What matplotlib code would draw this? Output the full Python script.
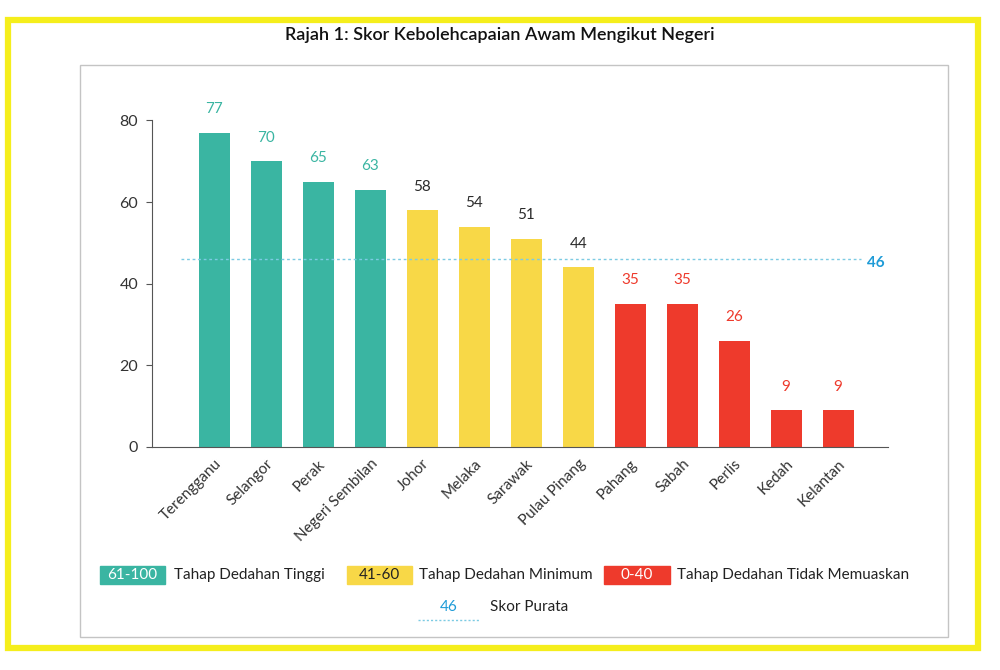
import matplotlib.pyplot as plt
from matplotlib.patches import Rectangle
from matplotlib.lines import Line2D

# ==========================================
# DATA
# ==========================================

negeri = ["Terengganu", "Selangor", "Perak", "Negeri Sembilan", "Johor",
          "Melaka", "Sarawak", "Pulau Pinang", "Pahang", "Sabah", "Perlis",
          "Kedah", "Kelantan"]
skor = [77, 70, 65, 63, 58, 54, 51, 44, 35, 35, 26, 9, 9]
skor_purata = 46

tahap_label = ["61-100", "41-60", "0-40"]
tahap_nama = ["Tahap Dedahan Tinggi", "Tahap Dedahan Minimum",
              "Tahap Dedahan Tidak Memuaskan"]

# ==========================================
# STYLE
# ==========================================

HIJAU = "#3AB5A2"
KUNING = "#F8D847"
MERAH = "#EE3A2C"
BIRU = "#1E9BD7"
GARIS_BIRU = "#7CCBE3"
TEKS = "#333333"

plt.rcParams["font.family"] = ["Lato", "DejaVu Sans"]


def warna_bar(v):
    if v >= 61:
        return HIJAU
    if v >= 41:
        return KUNING
    return MERAH


def warna_label(v):
    if v >= 61:
        return HIJAU
    if v >= 41:
        return "#2b2b2b"
    return MERAH


W, H = 1000, 670
fig = plt.figure(figsize=(10, 6.7), dpi=100)


def fx(px):
    return px / W


def fy(py):
    return 1 - py / H


# borders
fig.patches.append(Rectangle((fx(8), fy(648)), fx(970), 628 / H,
                             transform=fig.transFigure, fill=False,
                             edgecolor="#F5EE1C", linewidth=4.5))
fig.patches.append(Rectangle((fx(80), fy(637)), fx(868), 572 / H,
                             transform=fig.transFigure, fill=False,
                             edgecolor="#C4C4C4", linewidth=1))

fig.text(0.5, fy(35), "Rajah 1: Skor Kebolehcapaian Awam Mengikut Negeri",
         ha="center", va="center", fontsize=13, color="#111111",
         fontweight="semibold")

# ==========================================
# GRAFIK
# ==========================================

ax = fig.add_axes([fx(152), fy(447), fx(888) - fx(152), fy(100) - fy(447)])

x = list(range(len(negeri)))
ax.bar(x, skor, width=0.6, color=[warna_bar(v) for v in skor])

for xi, v in zip(x, skor):
    ax.annotate(str(v), (xi, v), xytext=(0, 12), textcoords="offset points",
                ha="center", va="bottom", fontsize=11,
                color=warna_label(v))

ax.plot([-0.65, 12.45], [skor_purata, skor_purata], linestyle=(0, (2, 2)),
        color=GARIS_BIRU, linewidth=1)
ax.text(12.72, skor_purata - 1, str(skor_purata), ha="center", va="center",
        fontsize=11, color=BIRU, fontweight="bold")

ax.set_xlim(-1.2, 12.96)
ax.set_ylim(0, 85)
ax.set_yticks([0, 20, 40, 60, 80])
ax.spines["left"].set_bounds(0, 80)
ax.spines["top"].set_visible(False)
ax.spines["right"].set_visible(False)
ax.spines["left"].set_color("#555555")
ax.spines["bottom"].set_color("#555555")
ax.tick_params(axis="y", length=4, color="#555555", labelsize=11.5,
               labelcolor=TEKS, pad=6)
ax.tick_params(axis="x", length=0, labelsize=11, labelcolor=TEKS, pad=7)
ax.set_xticks(x)
ax.set_xticklabels(negeri, rotation=45, ha="right", rotation_mode="anchor")

# ==========================================
# LEGEND
# ==========================================

kotak = [(100, 165, HIJAU, "white", 174),
         (347, 412, KUNING, "#222222", 419),
         (604, 670, MERAH, "white", 677)]
for (x0, x1, c, tc, tx), lab, nama in zip(kotak, tahap_label, tahap_nama):
    fig.patches.append(Rectangle((fx(x0), fy(584)), fx(x1 - x0), 18 / H,
                                 transform=fig.transFigure, color=c))
    fig.text(fx((x0 + x1) / 2), fy(575), lab, ha="center", va="center",
             fontsize=11, color=tc)
    fig.text(fx(tx), fy(575), nama, ha="left", va="center",
             fontsize=11, color="#222222")

fig.text(fx(449), fy(607), str(skor_purata), ha="center", va="center",
         fontsize=11, color=BIRU)
fig.lines.append(Line2D([fx(418), fx(480)], [fy(620), fy(620)],
                        transform=fig.transFigure, color=GARIS_BIRU,
                        linestyle=(0, (1.5, 1.5)), linewidth=1))
fig.text(fx(490), fy(607), "Skor Purata", ha="left", va="center",
         fontsize=11, color="#222222")

plt.savefig("out.png", dpi=100, facecolor="white")
plt.close()
